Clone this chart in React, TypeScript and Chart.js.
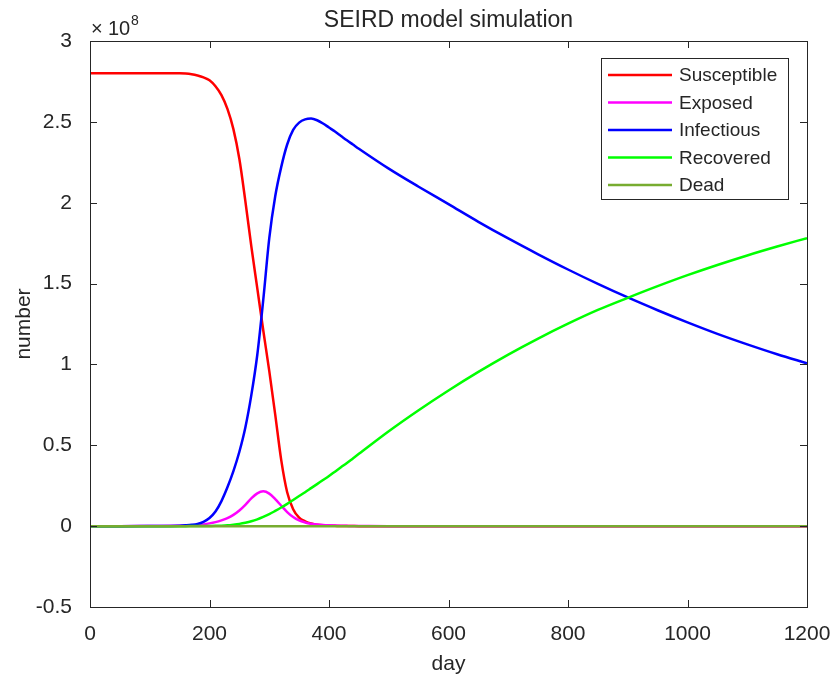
import React, { useEffect, useRef } from "react";
import { Chart, registerables } from "chart.js";

Chart.register(...registerables);

// Data (values in units of 1e8 people, axis shows x10^8)
const DAYS = [0, 50, 100, 150, 160, 170, 180, 190, 200, 210, 220, 230, 240, 250, 260, 270, 280, 290, 300, 310, 320, 330, 340, 350, 360, 370, 380, 390, 400, 410, 420, 430, 440, 450, 500, 550, 600, 650, 700, 750, 800, 850, 900, 950, 1000, 1050, 1100, 1150, 1200];
const SUSCEPTIBLE = [2.80, 2.80, 2.80, 2.80, 2.799, 2.795, 2.787, 2.775, 2.757, 2.72, 2.665, 2.58, 2.455, 2.27, 2.01, 1.73, 1.47, 1.21, 0.96, 0.69, 0.41, 0.21, 0.105, 0.052, 0.03, 0.016, 0.009, 0.005, 0.003, 0.002, 0.001, 0.0005, 0.0002, 0, 0, 0, 0, 0, 0, 0, 0, 0, 0, 0, 0, 0, 0, 0, 0];
const EXPOSED = [0, 0, 0.001, 0.002, 0.003, 0.005, 0.007, 0.011, 0.017, 0.025, 0.036, 0.05, 0.07, 0.097, 0.132, 0.172, 0.203, 0.215, 0.201, 0.167, 0.126, 0.087, 0.056, 0.035, 0.023, 0.015, 0.01, 0.007, 0.005, 0.0035, 0.0025, 0.0018, 0.0012, 0.001, 0, 0, 0, 0, 0, 0, 0, 0, 0, 0, 0, 0, 0, 0, 0];
const INFECTIOUS = [0, 0, 0.001, 0.003, 0.005, 0.008, 0.014, 0.027, 0.05, 0.09, 0.155, 0.24, 0.34, 0.46, 0.61, 0.81, 1.06, 1.40, 1.78, 2.04, 2.22, 2.36, 2.45, 2.495, 2.515, 2.52, 2.51, 2.49, 2.465, 2.44, 2.413, 2.386, 2.36, 2.334, 2.211, 2.099, 1.991, 1.882, 1.779, 1.681, 1.587, 1.498, 1.414, 1.335, 1.26, 1.189, 1.124, 1.063, 1.007];
const RECOVERED = [0, 0, 0, 0, 0, 0.0005, 0.0007, 0.001, 0.0015, 0.002, 0.003, 0.005, 0.009, 0.014, 0.021, 0.03, 0.042, 0.057, 0.074, 0.094, 0.115, 0.138, 0.162, 0.186, 0.21, 0.235, 0.26, 0.285, 0.31, 0.337, 0.364, 0.391, 0.419, 0.447, 0.587, 0.717, 0.839, 0.954, 1.061, 1.16, 1.252, 1.337, 1.412, 1.484, 1.552, 1.615, 1.674, 1.729, 1.781];
const DEAD = [0, 0, 0, 0, 0, 0, 0, 0, 0, 0, 0, 0, 0, 0, 0, 0, 0, 0, 0, 0, 0, 0, 0, 0, 0, 0, 0, 0, 0, 0, 0, 0, 0, 0, 0, 0, 0, 0, 0, 0, 0, 0, 0, 0, 0, 0, 0, 0, 0];

const SERIES_NAMES = ["Susceptible", "Exposed", "Infectious", "Recovered", "Dead"];
const SERIES_VALUES = [SUSCEPTIBLE, EXPOSED, INFECTIOUS, RECOVERED, DEAD];
const SERIES_COLORS = ["#FF0000", "#FF00FF", "#0000FF", "#00FF00", "#77AC30"];

const X_TICKS = [0, 200, 400, 600, 800, 1000, 1200];
const Y_TICKS = [-0.5, 0, 0.5, 1, 1.5, 2, 2.5, 3];

const TITLE = "SEIRD model simulation";
const X_LABEL = "day";
const Y_LABEL = "number";
const EXPONENT = "8";

const FONT = '"Liberation Sans", Arial, Helvetica, sans-serif';
const TEXT_COLOR = "#262626";

const matlabBoxPlugin = {
  id: "matlabBox",
  afterDraw(chart: any) {
    const { ctx, chartArea, scales } = chart;
    const { left, right, top, bottom } = chartArea;
    const xs = scales.x;
    const ys = scales.y;
    ctx.save();
    // box
    ctx.strokeStyle = TEXT_COLOR;
    ctx.lineWidth = 1;
    ctx.strokeRect(Math.round(left) + 0.5, Math.round(top) + 0.5, Math.round(right - left), Math.round(bottom - top));
    // inward ticks on all sides
    const tl = 7;
    ctx.beginPath();
    xs.ticks.forEach((t: any) => {
      const px = Math.round(xs.getPixelForValue(t.value)) + 0.5;
      ctx.moveTo(px, bottom);
      ctx.lineTo(px, bottom - tl);
      ctx.moveTo(px, top);
      ctx.lineTo(px, top + tl);
    });
    ys.ticks.forEach((t: any) => {
      const py = Math.round(ys.getPixelForValue(t.value)) + 0.5;
      ctx.moveTo(left, py);
      ctx.lineTo(left + tl, py);
      ctx.moveTo(right, py);
      ctx.lineTo(right - tl, py);
    });
    ctx.stroke();

    // exponent label (x10^8)
    ctx.fillStyle = TEXT_COLOR;
    ctx.textBaseline = "alphabetic";
    ctx.textAlign = "left";
    ctx.font = `20px ${FONT}`;
    ctx.fillText("\u00D7", left + 1, top - 6);
    ctx.fillText("10", left + 18, top - 6);
    ctx.font = `14px ${FONT}`;
    ctx.fillText(EXPONENT, left + 41, top - 16);

    // legend
    const bx = right - 206;
    const by = top + 17;
    const bw = 187;
    const bh = 141;
    ctx.fillStyle = "#FFFFFF";
    ctx.fillRect(bx, by, bw, bh);
    ctx.strokeStyle = TEXT_COLOR;
    ctx.lineWidth = 1;
    ctx.strokeRect(Math.round(bx) + 0.5, Math.round(by) + 0.5, bw, bh);
    ctx.font = `19px ${FONT}`;
    ctx.textBaseline = "middle";
    chart.data.datasets.forEach((ds: any, i: number) => {
      const cy = by + 17 + i * 27.5;
      ctx.strokeStyle = ds.borderColor;
      ctx.lineWidth = 2.5;
      ctx.beginPath();
      ctx.moveTo(bx + 7, cy);
      ctx.lineTo(bx + 71, cy);
      ctx.stroke();
      ctx.fillStyle = TEXT_COLOR;
      ctx.fillText(ds.label, bx + 78, cy + 1);
    });
    ctx.restore();
  },
};

export default function App() {
  const canvasRef = useRef<HTMLCanvasElement | null>(null);

  useEffect(() => {
    const canvas = canvasRef.current;
    if (!canvas) return;
    const datasets = SERIES_NAMES.map((name, i) => ({
      label: name,
      data: DAYS.map((d, j) => ({ x: d, y: SERIES_VALUES[i][j] })),
      borderColor: SERIES_COLORS[i],
      backgroundColor: SERIES_COLORS[i],
      borderWidth: 2.5,
      pointRadius: 0,
      fill: false,
      cubicInterpolationMode: "monotone" as const,
      order: SERIES_NAMES.length - 1 - i,
    }));

    const chart = new Chart(canvas, {
      type: "line",
      data: { datasets },
      options: {
        animation: false,
        responsive: false,
        maintainAspectRatio: false,
        devicePixelRatio: 1,
        layout: { padding: { left: 0, right: 26, top: 0, bottom: 0 } },
        plugins: {
          legend: { display: false },
          tooltip: { enabled: false },
          title: {
            display: true,
            text: TITLE,
            fullSize: false,
            color: TEXT_COLOR,
            font: { family: FONT, size: 23, weight: "normal" },
            padding: { top: 6.4, bottom: 7 },
          },
        },
        scales: {
          x: {
            type: "linear",
            min: 0,
            max: 1200,
            afterBuildTicks: (s: any) => {
              s.ticks = X_TICKS.map((v) => ({ value: v }));
            },
            afterFit: (s: any) => {
              s.height = 70;
              s.paddingLeft = 0;
              s.paddingRight = 0;
            },
            grid: { display: false },
            border: { display: false },
            ticks: {
              color: TEXT_COLOR,
              font: { family: FONT, size: 21 },
              padding: 7,
              maxRotation: 0,
              callback: (v: any) => String(v),
            },
            title: {
              display: true,
              text: X_LABEL,
              color: TEXT_COLOR,
              font: { family: FONT, size: 21 },
              padding: { top: 0, bottom: 0 },
            },
          },
          y: {
            type: "linear",
            min: -0.5,
            max: 3,
            afterBuildTicks: (s: any) => {
              s.ticks = Y_TICKS.map((v) => ({ value: v }));
            },
            afterFit: (s: any) => {
              s.width = 90;
              s.paddingTop = 0;
              s.paddingBottom = 0;
            },
            grid: { display: false },
            border: { display: false },
            ticks: {
              color: TEXT_COLOR,
              font: { family: FONT, size: 21 },
              padding: 10,
              callback: (v: any) => String(v),
            },
            title: {
              display: true,
              text: Y_LABEL,
              color: TEXT_COLOR,
              font: { family: FONT, size: 21 },
              padding: { top: 12, bottom: 0 },
            },
          },
        },
      },
      plugins: [matlabBoxPlugin],
    });
    return () => chart.destroy();
  }, []);

  return (
    <div style={{ position: "fixed", left: 0, top: 0, width: 833, height: 677, background: "#FFFFFF" }}>
      <canvas ref={canvasRef} width={833} height={677} style={{ width: 833, height: 677, display: "block" }} />
    </div>
  );
}
